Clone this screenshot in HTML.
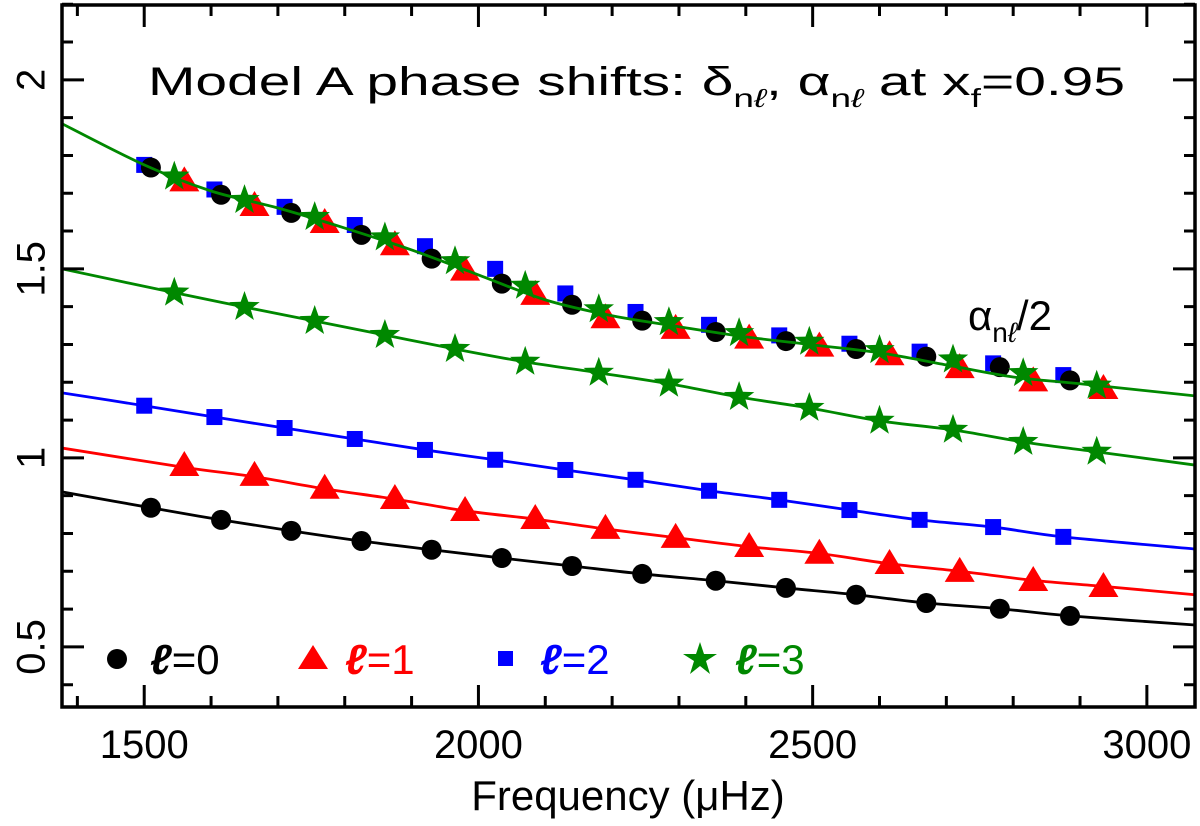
<!DOCTYPE html>
<html><head><meta charset="utf-8"><style>
html,body{margin:0;padding:0;background:#fff;}
svg{display:block;font-family:"Liberation Sans",sans-serif;}
</style></head><body>
<svg id="chart" width="1200" height="826" viewBox="0 0 1200 826" xmlns="http://www.w3.org/2000/svg">
<g id="plot"></g>
<g id="axes"></g>
<text x="148" y="95" font-size="40" textLength="977" lengthAdjust="spacingAndGlyphs">Model A phase shifts: δ<tspan font-size="26" dy="12">n</tspan><tspan font-size="26" font-style="italic">ℓ</tspan><tspan dy="-12">, α</tspan><tspan font-size="26" dy="12">n</tspan><tspan font-size="26" font-style="italic">ℓ</tspan><tspan dy="-12"> at x</tspan><tspan font-size="26" dy="12">f</tspan><tspan dy="-12">=0.95</tspan></text>
<text x="968" y="330" font-size="42">α<tspan font-size="28" dy="12">n</tspan><tspan font-size="28" font-style="italic">ℓ</tspan><tspan dy="-12">/2</tspan></text>
<text x="628" y="810" font-size="42" text-anchor="middle">Frequency (μHz)</text>
<g font-size="42">
 <circle cx="117" cy="659" r="10" fill="#000"/>
 <text x="150" y="674" fill="#000"><tspan font-style="italic" font-weight="bold">ℓ</tspan>=0</text>
 <polygon points="313,645 328,669 298,669" fill="#f00"/>
 <text x="345" y="674" fill="#f00"><tspan font-style="italic" font-weight="bold">ℓ</tspan>=1</text>
 <rect x="498" y="651" width="15" height="15" fill="#00f"/>
 <text x="540" y="674" fill="#00f"><tspan font-style="italic" font-weight="bold">ℓ</tspan>=2</text>
 <polygon points="700,642 704,654 717,654 706,661 710,674 700,666 690,674 694,661 683,654 696,654" fill="#080"/>
 <text x="735" y="674" fill="#080"><tspan font-style="italic" font-weight="bold">ℓ</tspan>=3</text>
</g>
</svg>
<script>
const xTicks=[1500,2000,2500,3000];
const yTicks=[0.5,1,1.5,2];
const yTickLabels=["0.5","1","1.5","2"];
const l0LineX=[1377,1510,1615,1720,1825,1930,2035,2140,2245,2355,2460,2565,2670,2780,2885,3072];
const l0LineY=[0.910,0.868,0.836,0.807,0.780,0.757,0.735,0.714,0.693,0.675,0.656,0.638,0.616,0.601,0.582,0.558];
const l0X=[1510,1615,1720,1825,1930,2035,2140,2245,2355,2460,2565,2670,2780,2885];
const l0Y=[0.868,0.836,0.807,0.780,0.757,0.735,0.714,0.693,0.675,0.656,0.638,0.616,0.601,0.582];
const l1LineX=[1377,1560,1665,1770,1875,1980,2085,2190,2295,2405,2510,2615,2720,2830,2935,3072];
const l1LineY=[1.026,0.975,0.950,0.918,0.891,0.860,0.838,0.812,0.789,0.765,0.747,0.720,0.700,0.676,0.660,0.638];
const l1X=[1560,1665,1770,1875,1980,2085,2190,2295,2405,2510,2615,2720,2830,2935];
const l1Y=[0.981,0.955,0.921,0.894,0.862,0.841,0.815,0.791,0.767,0.749,0.722,0.701,0.677,0.661];
const l2LineX=[1377,1500,1605,1710,1815,1920,2025,2130,2235,2345,2450,2555,2660,2770,2875,3072];
const l2LineY=[1.172,1.138,1.108,1.079,1.050,1.021,0.995,0.968,0.942,0.913,0.889,0.862,0.836,0.817,0.791,0.759];
const l2X=[1500,1605,1710,1815,1920,2025,2130,2235,2345,2450,2555,2660,2770,2875];
const l2Y=[1.138,1.108,1.079,1.050,1.021,0.995,0.968,0.942,0.913,0.889,0.862,0.836,0.817,0.791];
const l3LineX=[1377,1545,1650,1755,1860,1965,2070,2180,2285,2390,2495,2600,2710,2815,2925,3072];
const l3LineY=[1.500,1.437,1.399,1.362,1.325,1.288,1.254,1.225,1.196,1.161,1.132,1.098,1.074,1.042,1.016,0.981];
const l3X=[1545,1650,1755,1860,1965,2070,2180,2285,2390,2495,2600,2710,2815,2925];
const l3Y=[1.437,1.399,1.362,1.325,1.288,1.254,1.225,1.196,1.161,1.132,1.098,1.074,1.042,1.016];
const aLineX=[1377,1500,1600,1700,1800,1900,2000,2100,2200,2300,2400,2500,2600,2700,2800,2900,3072];
const aLineY=[1.884,1.775,1.706,1.661,1.608,1.550,1.484,1.418,1.376,1.347,1.320,1.299,1.278,1.246,1.214,1.196,1.164];
const a0Y=[1.768,1.696,1.648,1.590,1.527,1.461,1.405,1.363,1.333,1.309,1.288,1.268,1.240,1.205];
const a1Y=[1.734,1.669,1.624,1.565,1.498,1.434,1.372,1.344,1.318,1.297,1.274,1.240,1.205,1.185];
const a2Y=[1.775,1.710,1.664,1.616,1.560,1.500,1.435,1.386,1.352,1.324,1.302,1.281,1.250,1.219];
const a3Y=[1.744,1.682,1.637,1.583,1.520,1.455,1.393,1.359,1.330,1.307,1.285,1.260,1.224,1.191];

const L=62,R=1195,T=5,B=707;
const X0=1377,X1=3072,Y0=0.341,Y1=2.198;
function sx(v){return L+(v-X0)/(X1-X0)*(R-L);}
function sy(v){return B-(v-Y0)/(Y1-Y0)*(B-T);}
const NS="http://www.w3.org/2000/svg";
const plot=document.getElementById('plot'), axes=document.getElementById('axes');
function mk(tag,attrs,parent){const e=document.createElementNS(NS,tag);for(const k in attrs)e.setAttribute(k,attrs[k]);parent.appendChild(e);return e;}
function smooth(xs,ys){
 const p=xs.map((x,i)=>[sx(x),sy(ys[i])]);let d="M"+p[0][0]+","+p[0][1];
 for(let i=0;i<p.length-1;i++){const p0=p[i-1]||p[i],p1=p[i],p2=p[i+1],p3=p[i+2]||p2;
  const c1=[p1[0]+(p2[0]-p0[0])/6,p1[1]+(p2[1]-p0[1])/6],c2=[p2[0]-(p3[0]-p1[0])/6,p2[1]-(p3[1]-p1[1])/6];
  d+=" C"+c1+" "+c2+" "+p2;}
 return d;}
const clip=mk('clipPath',{id:'cp'},plot);mk('rect',{x:L,y:T,width:R-L,height:B-T},clip);
function line(xs,ys,col,name){const e=mk('path',{d:smooth(xs,ys),fill:'none',stroke:col,'stroke-width':2.8,'clip-path':'url(#cp)'},plot);
 
 }
function marker(type,x,y,col,name){let e;const cx=sx(x),cy=sy(y);
 if(type==='c')e=mk('circle',{cx:cx,cy:cy,r:10,fill:col},plot);
 else if(type==='t')e=mk('polygon',{points:`${cx},${cy-14} ${cx+15},${cy+11} ${cx-15},${cy+11}`,fill:col},plot);
 else if(type==='s')e=mk('rect',{x:cx-8,y:cy-8,width:16,height:16,fill:col},plot);
 else{const pts=[];for(let k=0;k<10;k++){const r=k%2?6.5:16,a=-Math.PI/2+k*Math.PI/5;pts.push((cx+r*Math.cos(a)).toFixed(1)+","+(cy+r*Math.sin(a)).toFixed(1));}
  e=mk('polygon',{points:pts.join(' '),fill:col},plot);}
 
 }
line(l0LineX,l0LineY,'#000','delta-l0-line');
line(l1LineX,l1LineY,'#f00','delta-l1-line');
line(l2LineX,l2LineY,'#00f','delta-l2-line');
line(l3LineX,l3LineY,'#080','delta-l3-line');
l0X.forEach((x,i)=>marker('c',x,l0Y[i],'#000','delta-l0-point'));
l1X.forEach((x,i)=>marker('t',x,l1Y[i],'#f00','delta-l1-point'));
l2X.forEach((x,i)=>marker('s',x,l2Y[i],'#00f','delta-l2-point'));
l3X.forEach((x,i)=>marker('*',x,l3Y[i],'#080','delta-l3-point'));
l2X.forEach((x,i)=>marker('s',x,a2Y[i],'#00f','alpha-l2-point'));
l0X.forEach((x,i)=>marker('c',x,a0Y[i],'#000','alpha-l0-point'));
l1X.forEach((x,i)=>marker('t',x,a1Y[i],'#f00','alpha-l1-point'));
l3X.forEach((x,i)=>marker('*',x,a3Y[i],'#080','alpha-l3-point'));
line(aLineX,aLineY,'#080','alpha-half-line');
const fr=mk('rect',{x:L,y:T,width:R-L,height:B-T,fill:'none',stroke:'#000','stroke-width':3.5},axes);


for(let v=1400;v<=3000;v+=100){const x=sx(v),len=(v%500===0)?22:11;
 const t=mk('path',{d:`M${x},${B}v${-len}M${x},${T}v${len}`,stroke:'#000','stroke-width':3},axes);
 
 }
for(let k=4;k<=22;k++){const v=k/10,y=sy(v),len=(k%5===0)?22:11;
 const t=mk('path',{d:`M${L},${y}h${len}M${R},${y}h${-len}`,stroke:'#000','stroke-width':3},axes);
 
 }
xTicks.forEach(v=>{const t=mk('text',{x:sx(v),y:758,'font-size':40,'text-anchor':'middle'},axes);t.textContent=String(v);
 
 });
yTicks.forEach((v,i)=>{const y=sy(v);const t=mk('text',{x:34,y:y,'font-size':40,'text-anchor':'middle',transform:`rotate(-90 34 ${y})`,'dominant-baseline':'middle'},axes);t.textContent=yTickLabels[i];
 
 });
</script>
</body></html>
